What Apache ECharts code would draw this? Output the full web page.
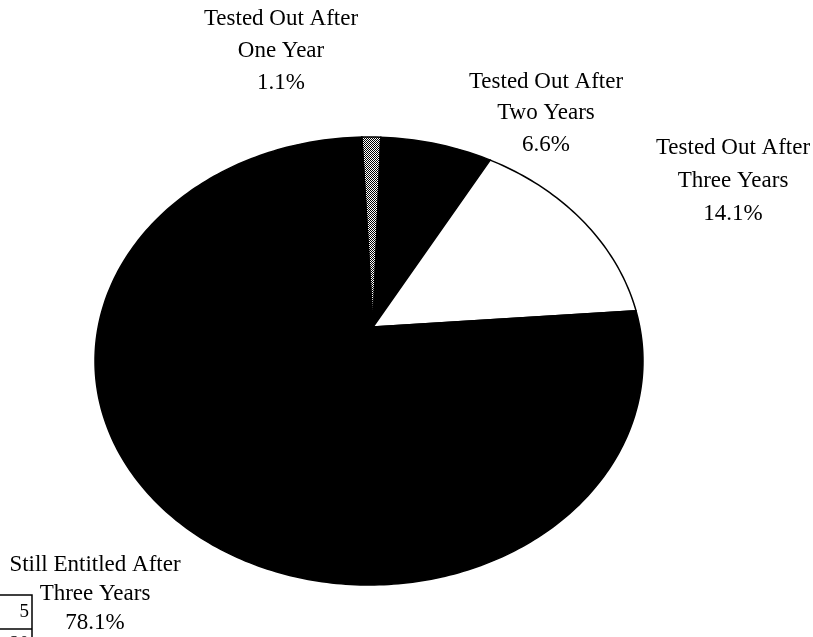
<!DOCTYPE html>
<html>
<head>
<meta charset="utf-8">
<script src="https://cdn.jsdelivr.net/npm/echarts@6/dist/echarts.min.js"></script>
<style>
  html, body { margin: 0; padding: 0; background: #fff; }
  #chart { width: 813px; height: 637px; }
</style>
</head>
<body>
<div id="chart"></div>
<script>
// Entitlement status of students, share of the cohort
const categories = [
  'Tested Out After\nOne Year',
  'Tested Out After\nTwo Years',
  'Tested Out After\nThree Years',
  'Still Entitled After\nThree Years'
];
const shares = [1.1, 6.6, 14.1, 78.1];

// Layout of the tilted pie (ellipse outline, hub point, starting angle in degrees)
const pieLayout = { cx: 369, cy: 361, rx: 274, ry: 224, hubX: 373, hubY: 327, startDeg: -1.5 };
// Label block centres (middle line) for each slice
const labelAnchors = [[281, 51, 32], [546, 113, 31.5], [733, 181, 33], [95, 594, 29]];

// Dithered grey fill for the smallest slice
function stipple() {
  const c = document.createElement('canvas');
  c.width = 4; c.height = 4;
  const g = c.getContext('2d');
  g.fillStyle = '#ffffff';
  g.fillRect(0, 0, 4, 4);
  g.fillStyle = '#000000';
  for (let y = 0; y < 4; y++) {
    for (let x = 0; x < 4; x++) {
      if ((x + y) % 2 === 0) g.fillRect(x, y, 1, 1);
    }
  }
  return { image: c, repeat: 'repeat' };
}
const sliceFills = [stipple(), '#000000', '#ffffff', '#000000'];

const total = shares.reduce((a, b) => a + b, 0);
const cumulative = [];
shares.reduce((acc, v) => { cumulative.push(acc); return acc + v; }, 0);

function renderSlice(params, api) {
  const i = params.dataIndex;
  const v = api.value(0);
  const L = pieLayout;
  const a0 = (L.startDeg + cumulative[i] / total * 360) * Math.PI / 180;
  const a1 = a0 + v / total * 2 * Math.PI;
  const steps = Math.max(4, Math.ceil((a1 - a0) / (Math.PI / 180)));
  const pts = [[L.hubX, L.hubY]];
  for (let k = 0; k <= steps; k++) {
    const t = a0 + (a1 - a0) * k / steps;
    pts.push([L.cx + L.rx * Math.sin(t), L.cy - L.ry * Math.cos(t)]);
  }
  const anchor = labelAnchors[i];
  return {
    type: 'group',
    children: [
      {
        type: 'polygon',
        shape: { points: pts },
        style: { fill: sliceFills[i], stroke: '#000000', lineWidth: 1.5 }
      },
      {
        type: 'text',
        x: anchor[0],
        y: anchor[1],
        style: {
          text: categories[i] + '\n' + v.toFixed(1) + '%',
          fill: '#000000',
          font: '23px "Liberation Serif", "Times New Roman", serif',
          lineHeight: anchor[2],
          align: 'center',
          verticalAlign: 'middle'
        }
      }
    ]
  };
}

const chart = echarts.init(document.getElementById('chart'), null, { renderer: 'canvas' });
chart.setOption({
  backgroundColor: '#ffffff',
  animation: false,
  series: [{
    type: 'custom',
    coordinateSystem: 'none',
    renderItem: renderSlice,
    data: shares.map((v, i) => ({ name: categories[i], value: [v] }))
  }],
  graphic: [
    // fragment of a neighbouring table at the lower-left edge
    { type: 'polyline', shape: { points: [[0, 595], [32, 595], [32, 637]] }, style: { stroke: '#000', lineWidth: 1.5, fill: null } },
    { type: 'line', shape: { x1: 0, y1: 629, x2: 32, y2: 629 }, style: { stroke: '#000', lineWidth: 1.5 } },
    { type: 'text', x: 29, y: 612, style: { text: '5', font: '19px "Liberation Serif", serif', fill: '#000', align: 'right', verticalAlign: 'middle' } },
    { type: 'text', x: 29, y: 644, style: { text: '20', font: '19px "Liberation Serif", serif', fill: '#000', align: 'right', verticalAlign: 'middle' } }
  ]
});
</script>
</body>
</html>
